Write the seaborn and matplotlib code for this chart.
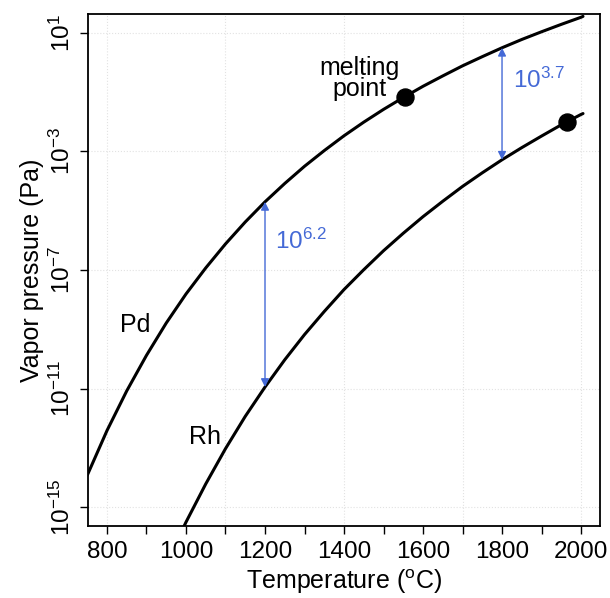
import matplotlib
matplotlib.use("Agg")
import matplotlib.pyplot as plt
import numpy as np
import pandas as pd
import seaborn as sns
from matplotlib.ticker import FixedLocator, FuncFormatter

# vapour pressure curves, log10(P / Pa)
temp_pd = [750, 800, 850, 900, 950, 1000, 1050, 1100, 1150, 1200, 1250, 1300, 1350,
           1400, 1450, 1500, 1550, 1600, 1650, 1700, 1750, 1800, 1850, 1900, 1950, 2000, 2005]
logp_pd = [-13.93, -12.42, -11.08, -9.88, -8.79, -7.81, -6.93, -6.12, -5.38, -4.70, -4.08, -3.50, -2.97,
           -2.47, -2.01, -1.58, -1.18, -0.80, -0.45, -0.11, 0.20, 0.50, 0.78, 1.04, 1.29, 1.53, 1.56]

temp_rh = [990, 1000, 1050, 1100, 1150, 1200, 1250, 1300, 1350, 1400, 1450, 1500,
           1550, 1600, 1650, 1700, 1750, 1800, 1850, 1900, 1950, 2000, 2005]
logp_rh = [-15.79, -15.51, -14.22, -13.03, -11.94, -10.95, -10.03, -9.18, -8.40, -7.66, -6.99, -6.35,
           -5.76, -5.20, -4.68, -4.18, -3.72, -3.28, -2.87, -2.48, -2.10, -1.75, -1.72]

# melting points (Pd, Rh)
melt_temp = [1555, 1964]
melt_logp = [-1.15, -2.00]

# pressure gap arrows
gap_temp = [1200, 1800]
gap_label = ["6.2", "3.7"]

blue = "#4469d6"

df = pd.concat([
    pd.DataFrame({"T": temp_pd, "P": 10.0 ** np.array(logp_pd), "metal": "Pd"}),
    pd.DataFrame({"T": temp_rh, "P": 10.0 ** np.array(logp_rh), "metal": "Rh"}),
])

sns.set_style("white")
plt.rcParams["font.family"] = ["Liberation Sans", "DejaVu Sans"]
plt.rcParams["mathtext.default"] = "regular"
plt.rcParams["text.color"] = "black"
plt.rcParams["axes.labelcolor"] = "black"
plt.rcParams["xtick.color"] = "black"
plt.rcParams["ytick.color"] = "black"

fig = plt.figure(figsize=(6.1, 5.98), dpi=100)
ax = fig.add_axes([0.1443, 0.1204, 0.8393, 0.8562])

# faint dotted grid
for gx in [800, 1100, 1400, 1700, 2000]:
    ax.axvline(gx, color="#e2e2e2", lw=0.8, ls=":", zorder=0)
for gy in [1, -3, -7, -11, -15]:
    ax.axhline(10.0 ** gy, color="#e2e2e2", lw=0.8, ls=":", zorder=0)

sns.lineplot(data=df, x="T", y="P", hue="metal", palette=["black", "black"],
             lw=2.2, legend=False, ax=ax, zorder=3)
ax.set_yscale("log")

ax.scatter(melt_temp, 10.0 ** np.array(melt_logp), s=150, color="black", zorder=4)

label_pos = [(1225, -6.02), (1828, -0.59)]
for t, lab, (lx, ly) in zip(gap_temp, gap_label, label_pos):
    top = 10.0 ** logp_pd[temp_pd.index(t)]
    bot = 10.0 ** logp_rh[temp_rh.index(t)]
    ax.annotate("", xy=(t, top), xytext=(t, bot),
                arrowprops=dict(arrowstyle="<|-|>", color=blue, lw=1.0,
                                mutation_scale=12, shrinkA=0, shrinkB=0))
    ax.text(lx, 10 ** ly, r"$10^{%s}$" % lab, color=blue, fontsize=17.5,
            ha="left", va="center")

ax.text(1440, 10 ** -0.55, "melting\npoint", fontsize=18, ha="center", va="center",
        linespacing=0.85)
ax.text(871, 10 ** -8.86, "Pd", fontsize=18, ha="center", va="center")
ax.text(1048, 10 ** -12.64, "Rh", fontsize=18, ha="center", va="center")

ax.set_xlim(752, 2048)
ax.set_ylim(10 ** -15.64, 10 ** 1.64)
ax.set_xticks([800, 1000, 1200, 1400, 1600, 1800, 2000])
ax.set_xticks([900, 1100, 1300, 1500, 1700, 1900], minor=True)
ax.yaxis.set_major_locator(FixedLocator([10.0 ** e for e in [1, -3, -7, -11, -15]]))
ax.yaxis.set_minor_locator(FixedLocator([]))
ax.yaxis.set_major_formatter(FuncFormatter(lambda v, p: r"$10^{%d}$" % round(np.log10(v))))
ax.tick_params(axis="both", which="both", direction="out", length=6, width=1.0,
               color="black", labelsize=17.5, bottom=True, left=True)
ax.tick_params(axis="x", pad=5)
plt.setp(ax.get_yticklabels(), rotation=90, va="center")

for s in ax.spines.values():
    s.set_color("black")
    s.set_linewidth(1.3)

ax.set_xlabel("Temperature ($^{o}$C)", fontsize=18, labelpad=3)
ax.set_ylabel("Vapor pressure (Pa)", fontsize=18, labelpad=4)

fig.savefig("out.png", dpi=100)
